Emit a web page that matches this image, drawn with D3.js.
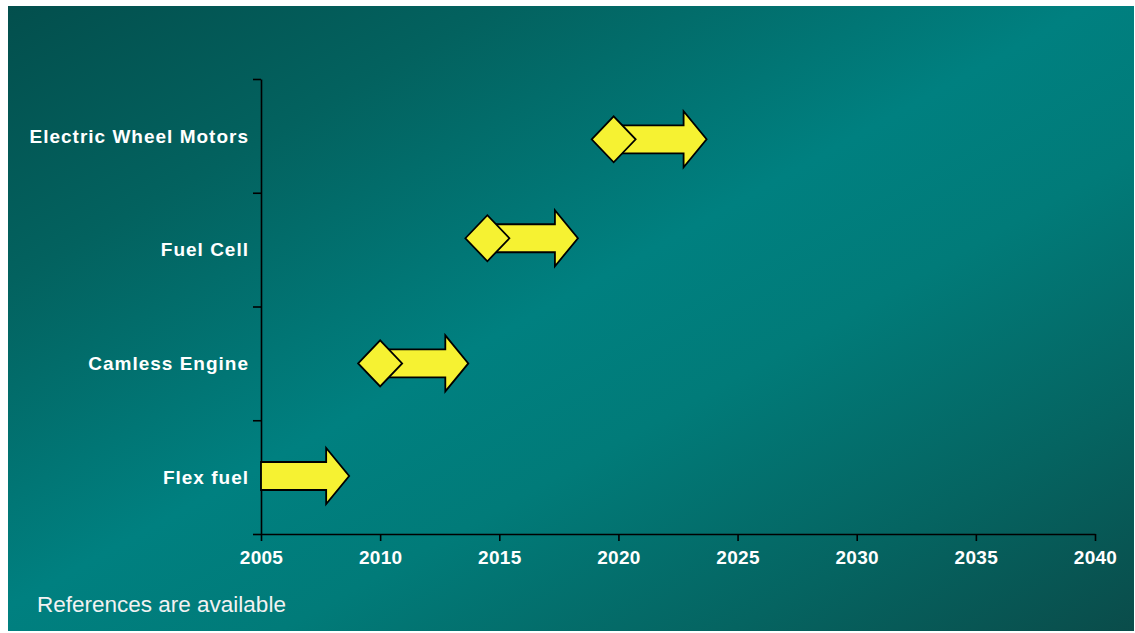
<!DOCTYPE html>
<html>
<head>
<meta charset="utf-8">
<script src="https://cdn.jsdelivr.net/npm/d3@7"></script>
<style>
  html, body { margin: 0; padding: 0; background: #ffffff; }
  svg { display: block; font-family: "Liberation Sans", Arial, sans-serif; }
</style>
</head>
<body>
<svg id="chart" width="1135" height="633"></svg>
<script>
// Technology roadmap: rows (bottom to top) and their introduction windows
const categories = ["Flex fuel", "Camless Engine", "Fuel Cell", "Electric Wheel Motors"];
const rowPosition = [0.51, 1.5, 2.6, 3.47];          // vertical position on the row scale
const startYear   = [2005, 2010, 2014.5, 2019.8];    // arrow tail / milestone year
const endYear     = [2008.7, 2013.7, 2018.3, 2023.7]; // arrow tip year
const hasMilestone = [false, true, true, true];       // diamond marker at start year
const yearTicks   = [2005, 2010, 2015, 2020, 2025, 2030, 2035, 2040];
const footnote    = "References are available";

const svg = d3.select("#chart");
const W = 1135, H = 633;

// Panel background with diagonal teal gradient
const defs = svg.append("defs");
const grad = defs.append("linearGradient")
  .attr("id", "panelGrad")
  .attr("x1", 0).attr("y1", 0).attr("x2", 1).attr("y2", 1);
grad.append("stop").attr("offset", "0%").attr("stop-color", "#034f4d");
grad.append("stop").attr("offset", "22%").attr("stop-color", "#03625f");
grad.append("stop").attr("offset", "48%").attr("stop-color", "#008080");
grad.append("stop").attr("offset", "62%").attr("stop-color", "#017b79");
grad.append("stop").attr("offset", "82%").attr("stop-color", "#056461");
grad.append("stop").attr("offset", "100%").attr("stop-color", "#0a4c4a");

svg.append("rect")
  .attr("x", 8).attr("y", 6)
  .attr("width", 1126).attr("height", 625)
  .attr("fill", "url(#panelGrad)");

// Scales
const x = d3.scaleLinear().domain([2005, 2040]).range([261, 1095]);
const y = d3.scaleLinear().domain([0, 4]).range([534, 79]);

// X axis
const xAxis = svg.append("g")
  .attr("transform", `translate(0,${y(0)})`)
  .call(d3.axisBottom(x).tickValues(yearTicks).tickFormat(d3.format("d")).tickSize(7).tickSizeOuter(0).tickPadding(10));
xAxis.select(".domain").attr("stroke", "#000").attr("stroke-width", 1.6);
xAxis.selectAll(".tick line").attr("stroke", "#000").attr("stroke-width", 1.6);
xAxis.selectAll(".tick text")
  .attr("fill", "#ffffff")
  .attr("font-size", 19)
  .attr("font-weight", "bold")
  .attr("font-family", "Liberation Sans, Arial, sans-serif")
  .attr("letter-spacing", 0.3);

// Y axis: ticks at row boundaries, labels at row centres
const yAxis = svg.append("g")
  .attr("transform", `translate(${x(2005)},0)`)
  .call(d3.axisLeft(y).tickValues([0, 1, 2, 3, 4]).tickFormat("").tickSize(8).tickSizeOuter(0));
yAxis.select(".domain").attr("stroke", "#000").attr("stroke-width", 1.6);
yAxis.selectAll(".tick line").attr("stroke", "#000").attr("stroke-width", 1.6);

svg.append("g")
  .selectAll("text")
  .data(categories)
  .join("text")
  .attr("x", 249)
  .attr("y", (d, i) => y(i + 0.5))
  .attr("dy", "0.36em")
  .attr("text-anchor", "end")
  .attr("fill", "#ffffff")
  .attr("font-size", 19)
  .attr("font-weight", "bold")
  .attr("letter-spacing", 1)
  .text(d => d);

// Block arrows and milestone diamonds
const shaftHalf = 14, headHalf = 28, headLen = 23;
const diaHalfW = 22, diaHalfH = 23;
const yellow = "#f6f232";

const rows = categories.map((c, i) => ({
  name: c, pos: rowPosition[i], start: startYear[i], end: endYear[i], milestone: hasMilestone[i]
}));

const marks = svg.append("g");
rows.forEach(r => {
  const x0 = x(r.start), x1 = x(r.end), cy = y(r.pos);
  const xh = x1 - headLen;
  const pts = [
    [x0, cy - shaftHalf], [xh, cy - shaftHalf], [xh, cy - headHalf],
    [x1, cy], [xh, cy + headHalf], [xh, cy + shaftHalf], [x0, cy + shaftHalf]
  ];
  marks.append("path")
    .attr("d", d3.line()(pts) + "Z")
    .attr("fill", yellow)
    .attr("stroke", "#000")
    .attr("stroke-width", 1.8)
    .attr("stroke-linejoin", "miter");
  if (r.milestone) {
    const dpts = [[x0 - diaHalfW, cy], [x0, cy - diaHalfH], [x0 + diaHalfW, cy], [x0, cy + diaHalfH]];
    marks.append("path")
      .attr("d", d3.line()(dpts) + "Z")
      .attr("fill", yellow)
      .attr("stroke", "#000")
      .attr("stroke-width", 1.8)
      .attr("stroke-linejoin", "miter");
  }
});

// Footnote
svg.append("text")
  .attr("x", 37)
  .attr("y", 612)
  .attr("fill", "#f2f2f2")
  .attr("font-size", 22.5)
  .text(footnote);
</script>
</body>
</html>
